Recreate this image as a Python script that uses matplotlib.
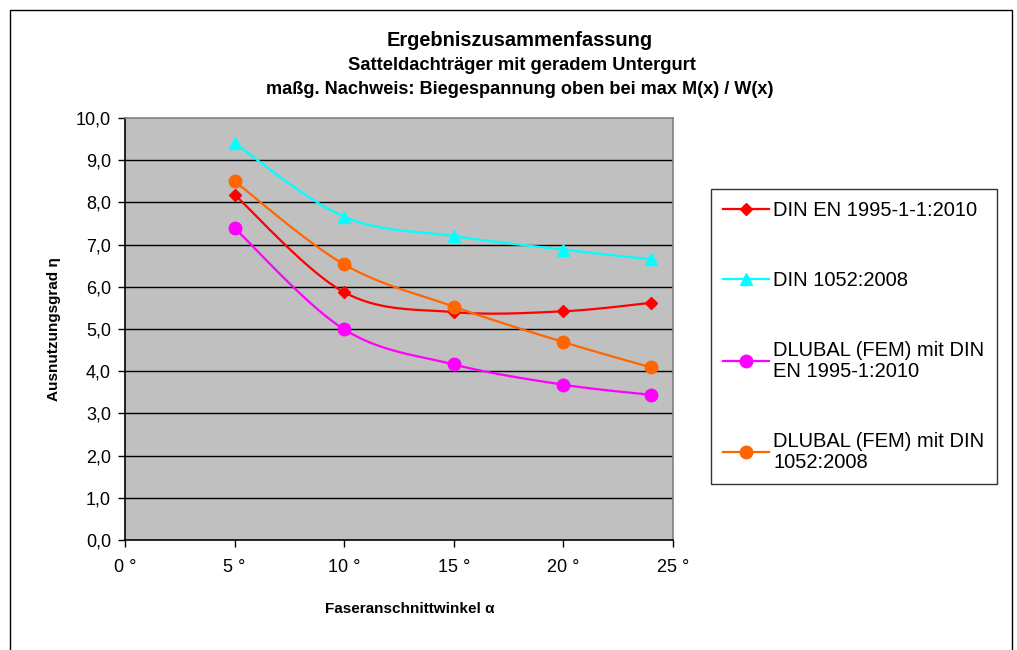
import numpy as np
import matplotlib
matplotlib.use("Agg")
import matplotlib.pyplot as plt
from matplotlib.patches import Rectangle

plt.rcParams['font.family'] = ['Liberation Sans', 'DejaVu Sans']

########################################################
# Data
########################################################

angles = [5, 10, 15, 20, 24]

din_en_1995 = [8.18, 5.87, 5.40, 5.42, 5.62]
din_1052 = [9.40, 7.66, 7.20, 6.88, 6.65]
dlubal_en = [7.39, 4.99, 4.16, 3.68, 3.44]
dlubal_1052 = [8.50, 6.53, 5.53, 4.69, 4.09]

series_labels = [
    'DIN EN 1995-1-1:2010',
    'DIN 1052:2008',
    'DLUBAL (FEM) mit DIN\nEN 1995-1:2010',
    'DLUBAL (FEM) mit DIN\n1052:2008',
]

x_ticks = [0, 5, 10, 15, 20, 25]
y_ticks = [0, 1, 2, 3, 4, 5, 6, 7, 8, 9, 10]

########################################################
# Helpers
########################################################

def smooth(x, y, sx=548 / 25, sy=422 / 10, steps=30):
    # Excel-like smoothed line (Catmull-Rom as cubic Bezier), done in screen-like units
    px = np.array(x, dtype=float) * sx
    py = np.array(y, dtype=float) * sy
    n = len(px)
    out_x, out_y = [], []
    for i in range(n - 1):
        p0 = np.array([px[max(i - 1, 0)], py[max(i - 1, 0)]])
        p1 = np.array([px[i], py[i]])
        p2 = np.array([px[i + 1], py[i + 1]])
        p3 = np.array([px[min(i + 2, n - 1)], py[min(i + 2, n - 1)]])
        c1 = p1 + (p2 - p0) / 6
        c2 = p2 - (p3 - p1) / 6
        t = np.linspace(0, 1, steps)[:, None]
        pts = ((1 - t) ** 3) * p1 + 3 * ((1 - t) ** 2) * t * c1 + 3 * (1 - t) * t ** 2 * c2 + t ** 3 * p2
        out_x.extend(pts[:, 0] / sx)
        out_y.extend(pts[:, 1] / sy)
    return out_x, out_y

########################################################
# Plot
########################################################

fig = plt.figure(figsize=(10.17, 6.5), dpi=100)
fig.patch.set_facecolor('white')

# outer chart border
fig.patches.append(Rectangle((10 / 1017, -0.1), 1002 / 1017, 1.1 - 10 / 650,
                             transform=fig.transFigure, fill=False,
                             edgecolor='black', linewidth=1.0))

ax = fig.add_axes([125 / 1017, 110 / 650, 548 / 1017, 422 / 650])
ax.set_facecolor('#C0C0C0')

styles = [
    (din_en_1995, '#FF0000', 'D', 6.5),
    (din_1052, '#00FFFF', '^', 9),
    (dlubal_en, '#FF00FF', 'o', 9),
    (dlubal_1052, '#FF6600', 'o', 9),
]

for (values, color, marker, msize), label in zip(styles, series_labels):
    xs, ys = smooth(angles, values)
    ax.plot(xs, ys, color=color, linewidth=1.6, zorder=3)
    ax.plot(angles, values, linestyle='none', marker=marker, markersize=msize,
            color=color, zorder=4)
    ax.plot([], [], color=color, linewidth=1.6, marker=marker, markersize=msize,
            label=label)

ax.set_xlim(0, 25)
ax.set_ylim(0, 10)
ax.set_xticks(x_ticks)
ax.set_xticklabels([f'{v} °' for v in x_ticks])
ax.set_yticks(y_ticks)
ax.set_yticklabels([f'{v:.1f}'.replace('.', ',') for v in y_ticks])

for v in y_ticks[1:-1]:
    ax.axhline(v, color='black', linewidth=1.0, zorder=1)

ax.spines['top'].set_color('#808080')
ax.spines['right'].set_color('#808080')
ax.spines['left'].set_color('black')
ax.spines['bottom'].set_color('black')
for s in ax.spines.values():
    s.set_linewidth(1.2)

ax.tick_params(axis='both', labelsize=13, length=5, width=1, color='black')
ax.tick_params(axis='x', pad=9)
ax.tick_params(axis='y', pad=5)

ax.set_xlabel('Faseranschnittwinkel α', fontsize=11, fontweight='bold')
ax.xaxis.set_label_coords(0.52, -0.148)
ax.xaxis.label.set_va('top')
ax.set_ylabel('Ausnutzungsgrad η', fontsize=11, fontweight='bold')
ax.yaxis.set_label_coords(-0.13, 0.5)
ax.yaxis.label.set_va('center')

fig.text(0.511, 1 - 40 / 650, 'Ergebniszusammenfassung', ha='center', va='center',
         fontsize=14.4, fontweight='bold')
fig.text(0.513, 1 - 66 / 650, 'Satteldachträger mit geradem Untergurt', ha='center',
         va='center', fontsize=13.2, fontweight='bold')
fig.text(0.511, 1 - 89 / 650, 'maßg. Nachweis: Biegespannung oben bei max M(x) / W(x)',
         ha='center', va='center', fontsize=13.1, fontweight='bold')

leg = ax.legend(loc='upper left', bbox_to_anchor=(711 / 1017, 1 - 189 / 650),
                bbox_transform=fig.transFigure, fontsize=14.5, frameon=True,
                fancybox=False, edgecolor='black', labelspacing=2.52,
                handlelength=2.3, handletextpad=0.2, borderpad=0.6,
                borderaxespad=0)
leg.get_frame().set_linewidth(1.0)
for t in leg.get_texts():
    t.set_linespacing(1.15)

fig.savefig('out.png', dpi=100)
